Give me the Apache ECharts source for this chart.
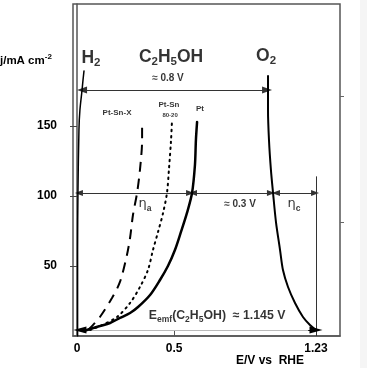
<!DOCTYPE html>
<html><head><meta charset="utf-8">
<script src="https://cdn.jsdelivr.net/npm/echarts@6/dist/echarts.min.js"></script>
<style>
html,body{margin:0;padding:0;background:linear-gradient(to right,#ffffff 360px,#f5f5f5 360px);}
#c{width:367px;height:368px;}
</style></head>
<body><div id="c"></div>
<script>
// ---- data (E in V vs RHE, j in mA cm^-2) ----
const xTicks = [0, 0.5, 1.23];
const yTicks = [50, 100, 150];
const rightTicks = [81, 171];

const eH2 = [0.003, 0.003, 0.003, 0.005, 0.010, 0.015, 0.026, 0.031, 0.036];
const jH2 = [0, 4.3, 61.4, 104.3, 147.1, 161.4, 175.7, 182.9, 189.3];

const ePt = [0.036, 0.067, 0.118, 0.17, 0.221, 0.273, 0.314, 0.376, 0.427, 0.468, 0.504, 0.535, 0.566, 0.592, 0.607, 0.612, 0.618];
const jPt = [3.6, 5, 7.1, 9.3, 12.9, 16.4, 20.7, 29.3, 40, 50, 61.4, 74.3, 87.9, 102.1, 122.1, 140, 152.9];

const ePtSn = [0.067, 0.118, 0.206, 0.273, 0.324, 0.365, 0.391, 0.417, 0.443, 0.463, 0.473, 0.484, 0.489];
const jPtSn = [4.3, 7.1, 13.6, 23.6, 35, 47.1, 61.4, 74.3, 87.9, 102.1, 118.6, 140, 154.3];

const ePtSnX = [0.057, 0.077, 0.118, 0.180, 0.221, 0.257, 0.273, 0.288, 0.309, 0.324, 0.335, 0.335];
const jPtSnX = [4.3, 7.1, 13.6, 27.1, 38.6, 57.9, 70, 86.4, 102.1, 118.6, 140, 149.3];

const eO2 = [0.983, 0.983, 0.988, 0.998, 1.009, 1.024, 1.045, 1.060, 1.086, 1.122, 1.163, 1.199, 1.230];
const jO2 = [185.7, 161.4, 140, 118.6, 102.1, 81.4, 61.4, 47.1, 35, 23.6, 13.6, 7.9, 4.3];

// double-headed arrows: [E start, E end, j]
const arrowTop = [0.026, 0.978, 175.7];      // ~0.8 V
const arrowEtaA = [0.010, 0.582, 102.1];     // eta_a
const arrow03 = [0.597, 0.998, 102.1];       // ~0.3 V
const arrowEtaC = [1.024, 1.225, 102.1];     // eta_c
const arrowEmf = [0.015, 1.23, 4.3];         // Emf
const vLine123 = [1.23, 0, 114];             // E, j from, j to

// ---- annotations ----
const notes = [
  [0.072, 197.9, '{H|H}{Hs|2}'],
  [0.484, 198.6, '{H|C}{Hs|2}{H|H}{Hs|5}{H|OH}'],
  [0.973, 199.3, '{H|O}{Hs|2}'],
  [0.468, 184.3, '{t9|≈ 0.8 V}'],
  [0.206, 159.3, '{t8|Pt-Sn-X}'],
  [0.473, 165.0, '{t8|Pt-Sn}'],
  [0.479, 157.9, '{t6|80-20}'],
  [0.633, 162.1, '{t8|Pt}'],
  [0.350, 93.6, '{eta|η}{etas|a}'],
  [0.839, 94.3, '{t9|≈ 0.3 V}'],
  [1.117, 93.6, '{eta|η}{etas|c}'],
  [0.721, 13.6, '{E|E}{Es|emf}{E|(C}{Es|2}{E|H}{Es|5}{E|OH)  ≈ 1.145 V}']
];

const zip = (a, b) => a.map((v, i) => [v, b[i]]);
const FF = 'Liberation Sans, Arial, sans-serif';
const B = {fontFamily: FF, fontWeight: 'bold', color: '#000'};

function arrowPair(a, size) {
  return [{coord: [a[0], a[2]], symbol: 'triangle', symbolSize: size},
          {coord: [a[1], a[2]], symbol: 'triangle', symbolSize: size}];
}

const chart = echarts.init(document.getElementById('c'), null, {renderer: 'canvas'});

const curve = (name, e, j, ls) => ({
  name, type: 'line', data: zip(e, j), showSymbol: false, symbol: 'none',
  smooth: 0.3, lineStyle: Object.assign({color: '#000', cap: 'round'}, ls), silent: true, z: 5
});

const option = {
  animation: false,
  backgroundColor: 'transparent',
  title: [
    {text: '{m|j/mA cm}{p|-2}', left: 0, top: 53, padding: 0,
     textStyle: {rich: {m: Object.assign({fontSize: 11.5, lineHeight: 14, verticalAlign: 'bottom'}, B),
                        p: Object.assign({fontSize: 8, lineHeight: 14, verticalAlign: 'top'}, B)}}},
    {text: 'E/V vs  RHE', left: 236, top: 355, padding: 0,
     textStyle: Object.assign({fontSize: 12}, B)}
  ],
  grid: {left: 73, right: 27, top: 4, bottom: 32, show: true, borderColor: '#555', borderWidth: 1.5},
  xAxis: {
    type: 'value', min: -0.0206, max: 1.3535,
    axisLine: {show: true, onZero: false, lineStyle: {color: '#555', width: 1.5}},
    axisTick: {show: true, inside: true, length: 5, customValues: [0.5], lineStyle: {color: '#555'}},
    axisLabel: Object.assign({customValues: xTicks, fontSize: 12, margin: 7,
      formatter: v => String(v)}, B),
    splitLine: {show: false}
  },
  yAxis: [{
    type: 'value', min: 0, max: 237.1,
    axisLine: {show: true, lineStyle: {color: '#555', width: 1.5}},
    axisTick: {show: true, inside: false, length: 7, customValues: yTicks, lineStyle: {color: '#444'}},
    axisLabel: Object.assign({customValues: yTicks, fontSize: 12, margin: 16}, B),
    splitLine: {show: false}
  }, {
    type: 'value', min: 0, max: 237.1, position: 'right',
    axisLine: {show: false},
    axisTick: {show: true, inside: false, length: 4, customValues: rightTicks, lineStyle: {color: '#666'}},
    axisLabel: {show: false},
    splitLine: {show: false}
  }],
  series: [
    curve('H2', eH2, jH2, {width: 1.5}),
    curve('Pt', ePt, jPt, {width: 2.5}),
    curve('Pt-Sn 80-20', ePtSn, jPtSn, {width: 2, type: [1.5, 4.5]}),
    curve('Pt-Sn-X', ePtSnX, jPtSnX, {width: 2, type: [10, 7], cap: 'butt'}),
    curve('O2', eO2, jO2, {width: 2}),
    {
      type: 'line', data: [], silent: true,
      markLine: {
        silent: true, animation: false, label: {show: false},
        lineStyle: {color: '#333', width: 1, type: 'solid'},
        data: [
          arrowPair(arrowTop, [7, 10]),
          arrowPair(arrowEtaA, [6, 8]),
          arrowPair(arrow03, [6, 8]),
          arrowPair(arrowEtaC, [6, 8]),
          [{coord: [vLine123[0], vLine123[1]], symbol: 'none'}, {coord: [vLine123[0], vLine123[2]], symbol: 'none'}],
          [{coord: [arrowEmf[0], arrowEmf[2]], symbol: 'none', lineStyle: {color: '#bbb'}},
           {coord: [arrowEmf[1], arrowEmf[2]], symbol: 'none'}],
          [{coord: [arrowEmf[0] + 0.04, arrowEmf[2]], symbol: 'none', lineStyle: {color: '#000', width: 1}},
           {coord: [arrowEmf[0], arrowEmf[2]], symbol: 'triangle', symbolSize: [7, 13]}],
          [{coord: [arrowEmf[1] - 0.04, arrowEmf[2]], symbol: 'none', lineStyle: {color: '#000', width: 1}},
           {coord: [arrowEmf[1], arrowEmf[2]], symbol: 'triangle', symbolSize: [7, 13]}]
        ]
      }
    },
    {
      type: 'scatter', silent: true, symbolSize: 0, z: 10,
      data: notes.map(n => ({value: [n[0], n[1]], label: {formatter: n[2]}})),
      label: {
        show: true, position: 'inside', align: 'center', verticalAlign: 'middle',
        rich: {
          H: Object.assign({fontSize: 17.5, lineHeight: 20, verticalAlign: 'top'}, B),
          Hs: Object.assign({fontSize: 11.5, lineHeight: 20, verticalAlign: 'bottom'}, B),
          t9: Object.assign({fontSize: 10}, B),
          t8: Object.assign({fontSize: 8}, B),
          t6: Object.assign({fontSize: 6}, B),
          eta: {fontSize: 13, fontFamily: 'DejaVu Sans', color: '#000', lineHeight: 16, verticalAlign: 'top'},
          etas: Object.assign({fontSize: 8.5, lineHeight: 16, verticalAlign: 'bottom'}, B),
          E: Object.assign({fontSize: 12.3, lineHeight: 15, verticalAlign: 'top'}, B),
          Es: Object.assign({fontSize: 8.5, lineHeight: 15, verticalAlign: 'bottom'}, B)
        }
      }
    }
  ]
};
chart.setOption(option);
</script>
</body></html>
